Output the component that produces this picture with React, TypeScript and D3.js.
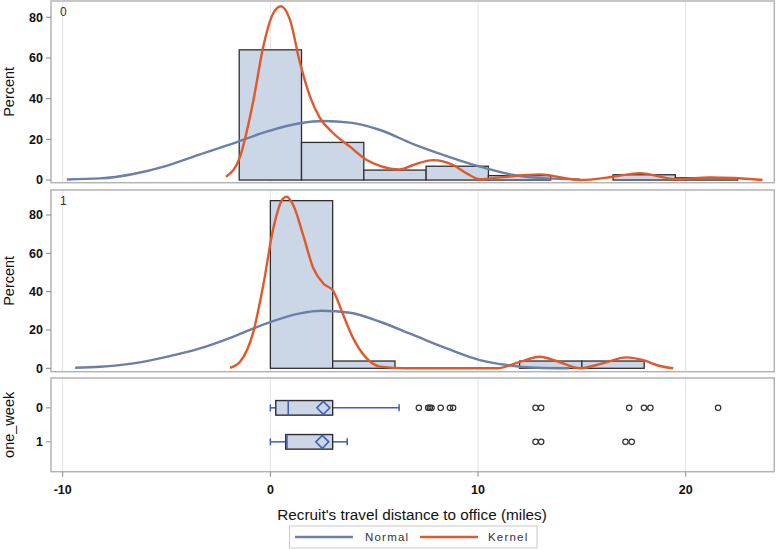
import React from "react";
import * as d3 from "d3";

// ---------- data ----------
const xTicks = [-10, 0, 10, 20];
const yTicks = [0, 20, 40, 60, 80];
const groups = ["0", "1"];

const binEdges0 = [-1.5, 1.5, 4.5, 7.5, 10.5, 13.5, 16.5, 19.5, 22.5];
const binPct0 = [64, 18.5, 4.9, 6.8, 2.2, 0, 2.6, 1.1];
const binEdges1 = [0, 3, 6, 9, 12, 15, 18];
const binPct1 = [87.5, 3.8, 0, 0, 3.8, 3.8];

const normal0: [number, number][] = [
  [-9.8, 0.3], [-8.2, 0.8], [-6.6, 3], [-5, 7], [-3.39, 12.6], [-1.79, 18],
  [-0.18, 23.8], [1.43, 27.9], [2.55, 29], [3.83, 28.2], [5.28, 24.6],
  [6.88, 17.7], [8.49, 11.8], [10.09, 6.6], [11.7, 2.5], [13.3, 0.8], [14.9, 0.3],
];
const kernel0: [number, number][] = [
  [-2.14, 1.6], [-1.46, 11.5], [-0.82, 39], [-0.34, 65.7], [0.14, 82], [0.51, 85.4],
  [0.94, 78.8], [1.43, 57.5], [1.91, 41], [2.39, 30.4], [3.03, 23], [3.83, 16.4],
  [4.64, 9.9], [5.28, 7], [6.24, 5.2], [6.88, 7.4], [7.84, 9.8], [8.8, 7.4],
  [9.45, 3.3], [10.1, 0.4], [11.06, 1.3], [12.98, 2.8], [14.26, 0.8], [14.9, 0],
  [16.5, 1.6], [17.8, 3.4], [19.5, 0.4], [21.16, 1.3], [22.3, 1], [23.7, 0],
];
const normal1: [number, number][] = [
  [-9.4, 0.3], [-8.2, 0.8], [-6.6, 2.6], [-5, 6], [-3.39, 10.4], [-1.79, 16.5],
  [-0.18, 23.5], [1.43, 28.7], [2.47, 30], [3.83, 29], [5.28, 24.3], [6.88, 17.4],
  [8.49, 10.4], [10.09, 4.3], [11.38, 1.7], [12.8, 0.3], [14.4, 0],
];
const kernel1: [number, number][] = [
  [-1.94, 0.3], [-1.46, 3.4], [-0.82, 19], [-0.34, 43.5], [0.14, 73], [0.62, 88.7],
  [0.78, 89.5], [1.1, 85.2], [1.58, 69.5], [2.07, 52.2], [2.55, 44.3], [3.03, 40.3],
  [3.51, 27.8], [3.99, 15.6], [4.64, 5.2], [5.28, 0.9], [6.5, 0], [10.9, 0],
  [12.02, 3.4], [12.98, 6], [13.78, 3.8], [14.9, 0], [16.0, 2.6], [17.15, 5.7],
  [17.95, 4.3], [18.76, 1.2], [19.4, 0],
];

// box stats: [whiskerLow, q1, median, mean, q3, whiskerHigh]
const boxStats: number[][] = [
  [0, 0.26, 0.86, 2.55, 3.0, 6.2],
  [0, 0.74, 0.8, 2.5, 3.0, 3.7],
];
const outliers0 = [7.15, 7.6, 7.68, 7.76, 8.2, 8.65, 8.8, 12.77, 13.04, 17.28, 17.99, 18.3, 21.56];
const outliers1 = [12.77, 13.04, 17.1, 17.4];
const outliers = [outliers0, outliers1];

// ---------- styles ----------
const FONT = "'Liberation Sans', Arial, sans-serif";
const FRAME = "#b4b4b4";
const GRID = "#e3e3e3";
const BAR_FILL = "#cbd6e6";
const BAR_STROKE = "#2f2f2f";
const NORMAL = "#6b80a8";
const KERNEL = "#e0592a";
const WHISK = "#3f5fb3";

const L = 51, R = 774.3;
const x = d3.scaleLinear().domain([-10, 20]).range([62.7, 685.7]);

const panels = [
  { top: 1, bottom: 182.7, y: d3.scaleLinear().domain([-1.3, 88]).range([182.7, 1]), edges: binEdges0, pct: binPct0, normal: normal0, kernel: kernel0, label: "0" },
  { top: 190, bottom: 371.7, y: d3.scaleLinear().domain([-1.77, 93.05]).range([371.7, 190]), edges: binEdges1, pct: binPct1, normal: normal1, kernel: kernel1, label: "1" },
];

const boxTop = 378, boxBottom = 471.7;
const yBox = d3.scalePoint<string>().domain(groups).range([boxTop, boxBottom]).padding(0.878);

const TICK_FS = 12.5;
const TICK_FW = 700;

export default function App() {
  return (
    <svg width={776} height={549} style={{ position: "absolute", left: 0, top: 0, background: "#fff" }} fontFamily={FONT}>
      {panels.map((p, pi) => {
        const line = d3.line<[number, number]>().x(d => x(d[0])).y(d => p.y(d[1])).curve(d3.curveMonotoneX);
        return (
          <g key={pi}>
            <rect x={L} y={p.top} width={R - L} height={p.bottom - p.top} fill="#fff" />
            {xTicks.map(t => (
              <line key={t} x1={x(t)} x2={x(t)} y1={p.top} y2={p.bottom} stroke={GRID} strokeWidth={1} />
            ))}
            {p.pct.map((v, i) => v > 0 ? (
              <rect key={i} x={x(p.edges[i])} y={p.y(v)} width={x(p.edges[i + 1]) - x(p.edges[i])} height={p.y(0) - p.y(v)}
                fill={BAR_FILL} stroke={BAR_STROKE} strokeWidth={1.3} />
            ) : null)}
            <path d={line(p.normal) || ""} fill="none" stroke={NORMAL} strokeWidth={2.4} />
            <path d={line(p.kernel) || ""} fill="none" stroke={KERNEL} strokeWidth={2.4} />
            <rect x={L} y={p.top} width={R - L} height={p.bottom - p.top} fill="none" stroke={FRAME} strokeWidth={1.5} />
            <text x={60} y={p.top + 15} fontSize={12} fill="#333">{p.label}</text>
            {yTicks.map(t => (
              <g key={t}>
                <line x1={L - 5} x2={L} y1={p.y(t)} y2={p.y(t)} stroke="#888" strokeWidth={1} />
                <text x={L - 8} y={p.y(t)} dy="0.35em" textAnchor="end" fontSize={TICK_FS} fontWeight={TICK_FW} fill="#111">{t}</text>
              </g>
            ))}
            <text transform={`translate(14,${(p.top + p.bottom) / 2}) rotate(-90)`} textAnchor="middle" fontSize={14.5} fill="#111">Percent</text>
          </g>
        );
      })}

      {/* box plot panel */}
      <g>
        <rect x={L} y={boxTop} width={R - L} height={boxBottom - boxTop} fill="#fff" />
        {xTicks.map(t => (
          <line key={t} x1={x(t)} x2={x(t)} y1={boxTop} y2={boxBottom} stroke={GRID} strokeWidth={1} />
        ))}
        {groups.map((g, gi) => {
          const cy = yBox(g) as number;
          const s = boxStats[gi];
          const h = 7.3;
          return (
            <g key={g}>
              <line x1={x(s[0])} x2={x(s[1])} y1={cy} y2={cy} stroke={WHISK} strokeWidth={1.5} />
              <line x1={x(s[4])} x2={x(s[5])} y1={cy} y2={cy} stroke={WHISK} strokeWidth={1.5} />
              <line x1={x(s[0])} x2={x(s[0])} y1={cy - 3.5} y2={cy + 3.5} stroke={WHISK} strokeWidth={1.5} />
              <line x1={x(s[5])} x2={x(s[5])} y1={cy - 3.5} y2={cy + 3.5} stroke={WHISK} strokeWidth={1.5} />
              <rect x={x(s[1])} y={cy - h} width={x(s[4]) - x(s[1])} height={2 * h} fill={BAR_FILL} stroke={BAR_STROKE} strokeWidth={1.4} />
              <line x1={x(s[2])} x2={x(s[2])} y1={cy - h} y2={cy + h} stroke={WHISK} strokeWidth={1.5} />
              <path d={`M${x(s[3]) - 6.5},${cy} L${x(s[3])},${cy - 6.5} L${x(s[3]) + 6.5},${cy} L${x(s[3])},${cy + 6.5} Z`} fill="none" stroke={WHISK} strokeWidth={1.5} />
              {outliers[gi].map((o, oi) => (
                <circle key={oi} cx={x(o)} cy={cy} r={2.7} fill="none" stroke="#333" strokeWidth={1.2} />
              ))}
              <line x1={L - 5} x2={L} y1={cy} y2={cy} stroke="#888" strokeWidth={1} />
              <text x={L - 8} y={cy} dy="0.35em" textAnchor="end" fontSize={TICK_FS} fontWeight={TICK_FW} fill="#111">{g}</text>
            </g>
          );
        })}
        <rect x={L} y={boxTop} width={R - L} height={boxBottom - boxTop} fill="none" stroke={FRAME} strokeWidth={1.5} />
        <text transform={`translate(14,${(boxTop + boxBottom) / 2}) rotate(-90)`} textAnchor="middle" fontSize={14.5} fill="#111">one_week</text>
        {xTicks.map(t => (
          <g key={t}>
            <line x1={x(t)} x2={x(t)} y1={boxBottom} y2={boxBottom + 5} stroke="#888" strokeWidth={1} />
            <text x={x(t)} y={boxBottom + 22} textAnchor="middle" fontSize={TICK_FS} fontWeight={TICK_FW} fill="#111">{t}</text>
          </g>
        ))}
        <text x={412} y={520} textAnchor="middle" fontSize={15.3} fill="#111">Recruit's travel distance to office (miles)</text>
      </g>

      {/* legend */}
      <g>
        <rect x={289.5} y={526} width={247.5} height={22} fill="#fff" stroke="#c8c8c8" strokeWidth={1} />
        <line x1={295} x2={353} y1={537} y2={537} stroke={NORMAL} strokeWidth={2.4} />
        <text x={365} y={537} dy="0.35em" fontSize={11.5} letterSpacing={1.2} fill="#333">Normal</text>
        <line x1={420} x2={478} y1={537} y2={537} stroke={KERNEL} strokeWidth={2.4} />
        <text x={488} y={537} dy="0.35em" fontSize={11.5} letterSpacing={1.2} fill="#333">Kernel</text>
      </g>
    </svg>
  );
}
